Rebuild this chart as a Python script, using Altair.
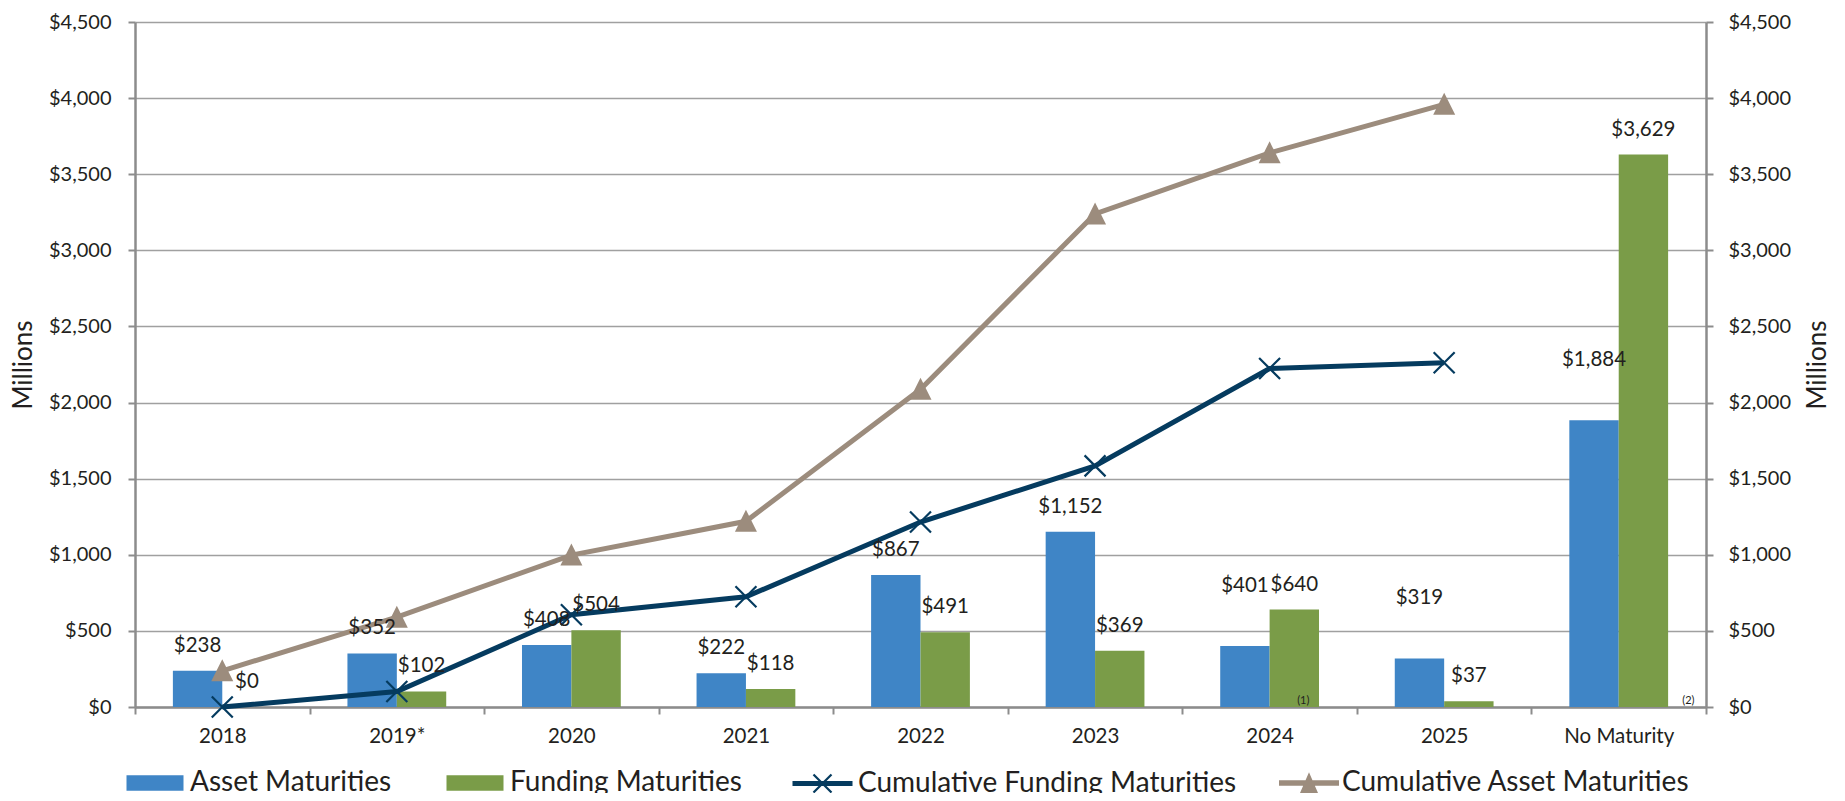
import json
import altair as alt
import pandas as pd

# ---------------- data ----------------
categories = ["2018", "2019*", "2020", "2021", "2022", "2023", "2024", "2025", "No Maturity"]
asset_maturities = [238, 352, 408, 222, 867, 1152, 401, 319, 1884]
funding_maturities = [0, 102, 504, 118, 491, 369, 640, 37, 3629]

line_years = ["2018", "2019*", "2020", "2021", "2022", "2023", "2024", "2025"]
cum_funding = [0, 102, 606, 724, 1215, 1584, 2224, 2261]
cum_asset = [238, 590, 998, 1220, 2087, 3239, 3640, 3959]

y_ticks = [0, 500, 1000, 1500, 2000, 2500, 3000, 3500, 4000, 4500]
note_categories = ["2024", "No Maturity"]
note_texts = ["(1)", "(2)"]

bar_series = ["Asset Maturities", "Funding Maturities"]
fund_name = "Cumulative Funding Maturities"
asset_name = "Cumulative Asset Maturities"

# ---------------- styling ----------------
FONT = "Lato"
TEXT = "#231F20"
BLUE = "#3F85C6"
GREEN = "#7A9C48"
NAVY = "#053B5F"
TAUPE = "#9C8C7D"
GRID = "#A0A0A0"
AXIS = "#8C8C8C"

X_PATH = "M-1,-1L1,1M-1,1L1,-1"
TRI_PATH = "M0,-1.05L1,0.95L-1,0.95Z"
LEG_RECT = "M-0.95,-0.26H0.95V0.26H-0.95Z"
LEG_X = "M-1,-0.05H1M-1,0H1M-1,0.05H1M-0.3,-0.3L0.3,0.3M-0.3,0.3L0.3,-0.3"
LEG_TRI = "M-1,-0.095H1V0.095H-1ZM0,-0.36L0.3,0.33L-0.3,0.33Z"

bars_df = pd.DataFrame({
    "category": categories * 2,
    "series": [bar_series[0]] * len(categories) + [bar_series[1]] * len(categories),
    "value": asset_maturities + funding_maturities,
})
fund_df = pd.DataFrame({"category": line_years, "series": fund_name, "value": cum_funding})
asset_df = pd.DataFrame({"category": line_years, "series": asset_name, "value": cum_asset})
notes_df = pd.DataFrame({"category": note_categories, "series": bar_series[1],
                         "note": note_texts, "value": [0] * len(note_texts)})

x_axis = alt.Axis(title=None, labelAngle=0, labelFont=FONT, labelFontSize=20.5, labelColor=TEXT,
                  labelPadding=12, tickBand="extent", tickSize=7, tickColor=AXIS, tickWidth=2,
                  domainColor=AXIS, domainWidth=2.5, grid=False)
x_enc = alt.X("category:N", sort=categories,
              scale=alt.Scale(domain=categories, paddingInner=0, paddingOuter=0), axis=x_axis)
xo_enc = alt.XOffset("series:N", scale=alt.Scale(domain=bar_series, paddingInner=0, paddingOuter=0.767))

y_scale_dom = [0, 4500]


def y_enc(axis=None):
    return alt.Y("value:Q", scale=alt.Scale(domain=y_scale_dom, nice=False, zero=True), axis=axis)


left_axis = alt.Axis(values=y_ticks, format="$,.0f", title="Millions", titleFont=FONT, titleFontSize=26,
                     titleFontWeight="normal", titleColor=TEXT, titlePadding=12,
                     labelFont=FONT, labelFontSize=20, labelColor=TEXT, labelPadding=17,
                     tickSize=7, tickColor=AXIS, tickWidth=2, domainColor=AXIS, domainWidth=2.5,
                     grid=True, gridColor=GRID, gridWidth=1.5)
right_axis = alt.Axis(orient="right", values=y_ticks, format="$,.0f", title="Millions", titleFont=FONT,
                      titleFontSize=26, titleFontWeight="normal", titleColor=TEXT, titlePadding=40,
                      titleAngle=270, labelFont=FONT, labelFontSize=20, labelColor=TEXT, labelPadding=15,
                      tickSize=7, tickColor=AXIS, tickWidth=2, domainColor=AXIS, domainWidth=2.5, grid=False)

LEG_Y = 731
leg_common = dict(title=None, orient="none", direction="horizontal", labelFont=FONT, labelFontSize=28,
                  labelColor=TEXT, labelLimit=1000, symbolSize=3600, padding=0)


def bar_layer(series_name, colour, legend_x, axis=None):
    return alt.Chart(bars_df).transform_filter(f"datum.series == '{series_name}'").mark_bar().encode(
        x=x_enc, xOffset=xo_enc, y=y_enc(axis),
        color=alt.Color("series:N", scale=alt.Scale(domain=[series_name], range=[colour]),
                        legend=alt.Legend(legendX=legend_x, legendY=LEG_Y, symbolType=LEG_RECT,
                                          symbolStrokeWidth=0, labelOffset=5, **leg_common)),
    )


bars_asset = bar_layer(bar_series[0], BLUE, -10, left_axis)
bars_fund = bar_layer(bar_series[1], GREEN, 310)

taupe_line = alt.Chart(asset_df).mark_line(color=TAUPE, strokeWidth=5).encode(
    x=x_enc, y=y_enc(right_axis))
taupe_pts = alt.Chart(asset_df).mark_point(shape=TRI_PATH, filled=True, size=484, opacity=1,
                                           strokeWidth=0).encode(
    x=x_enc, y=y_enc(),
    fill=alt.Fill("series:N", scale=alt.Scale(domain=[asset_name], range=[TAUPE]),
                  legend=alt.Legend(legendX=1144, legendY=LEG_Y, symbolType=LEG_TRI,
                                    symbolStrokeWidth=0, labelOffset=3, **leg_common)),
)

navy_line = alt.Chart(fund_df).mark_line(color=NAVY, strokeWidth=5).encode(x=x_enc, y=y_enc())
navy_pts = alt.Chart(fund_df).mark_point(shape=X_PATH, filled=False, size=440, opacity=1,
                                         strokeWidth=2.2).encode(
    x=x_enc, y=y_enc(),
    stroke=alt.Stroke("series:N", scale=alt.Scale(domain=[fund_name], range=[NAVY]),
                      legend=alt.Legend(legendX=656, legendY=LEG_Y - 1, symbolType=LEG_X,
                                        symbolStrokeWidth=2.2, labelOffset=4, **leg_common)),
)

label_fmt = "$,.0f"
raised = ["2024", "2025", "No Maturity"]
raised_js = json.dumps(raised)

text_style = dict(font=FONT, fontSize=20.5, color=TEXT, baseline="middle")

lab_fund = alt.Chart(bars_df).transform_filter(
    f"datum.series == '{bar_series[1]}'"
).mark_text(dy=-25, **text_style).encode(
    x=x_enc, xOffset=xo_enc, y=y_enc(), text=alt.Text("value:Q", format=label_fmt))

lab_asset = alt.Chart(bars_df).transform_filter(
    f"datum.series == '{bar_series[0]}' && indexof({raised_js}, datum.category) < 0"
).mark_text(dy=-25, **text_style).encode(
    x=x_enc, xOffset=xo_enc, y=y_enc(), text=alt.Text("value:Q", format=label_fmt))

lab_asset_hi = alt.Chart(bars_df).transform_filter(
    f"datum.series == '{bar_series[0]}' && indexof({raised_js}, datum.category) >= 0"
).mark_text(dy=-60, **text_style).encode(
    x=x_enc, xOffset=xo_enc, y=y_enc(), text=alt.Text("value:Q", format=label_fmt))

note1 = alt.Chart(notes_df).transform_filter(f"datum.note == '{note_texts[0]}'").mark_text(
    font=FONT, fontSize=11, color=TEXT, baseline="bottom", dx=9, dy=-1).encode(
    x=x_enc, xOffset=xo_enc, y=y_enc(), text="note:N")
note2 = alt.Chart(notes_df).transform_filter(f"datum.note == '{note_texts[1]}'").mark_text(
    font=FONT, fontSize=11, color=TEXT, baseline="bottom", dx=45, dy=-1).encode(
    x=x_enc, xOffset=xo_enc, y=y_enc(), text="note:N")

chart = alt.layer(
    bars_asset, bars_fund, taupe_line, taupe_pts, navy_line, navy_pts,
    lab_fund, lab_asset, lab_asset_hi, note1, note2
).resolve_scale(y="independent", color="independent").properties(
    width=1571, height=685,
    autosize=alt.AutoSizeParams(type="none"),
    padding={"left": 127, "top": 14, "right": 131, "bottom": 86},
).configure_view(stroke=None)

chart.save("out.html", embed_options={"renderer": "svg", "actions": False})
